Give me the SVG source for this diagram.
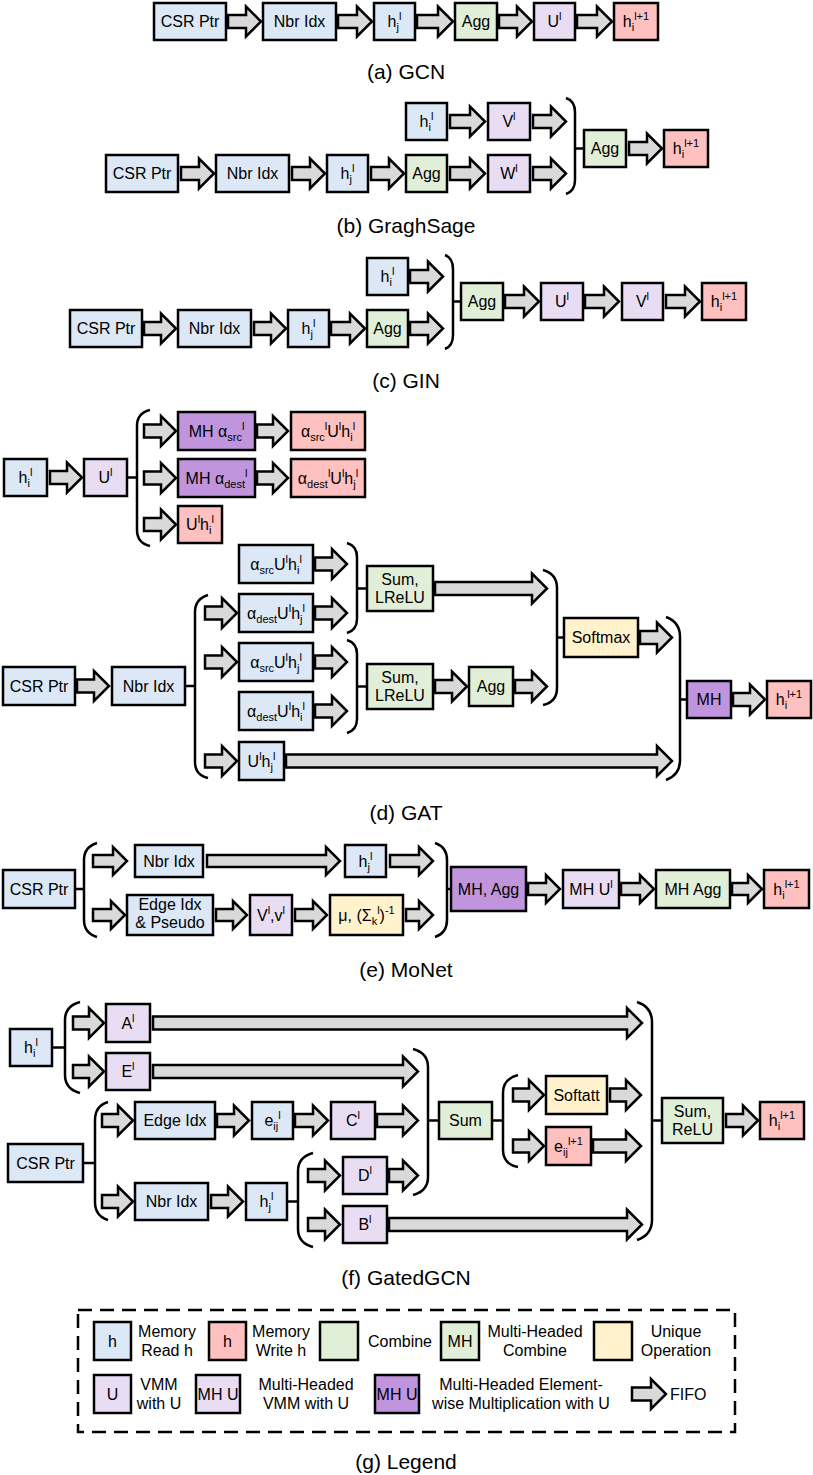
<svg xmlns="http://www.w3.org/2000/svg" width="813" height="1475" viewBox="0 0 813 1475">
<style>
.b{stroke:#000;stroke-width:2.5}
.blue{fill:#dce8f6}.pink{fill:#ffc0c0}.green{fill:#e1efd9}.lp{fill:#e9ddf3}.dp{fill:#c095dd}.yel{fill:#fff2cc}
.ar{fill:#d9d9d9;stroke:#000;stroke-width:2.5}
.br{fill:none;stroke:#000;stroke-width:2.5}
.t{font-family:"Liberation Sans",Arial,sans-serif;font-size:16px;text-anchor:middle;fill:#000}
.tl{font-family:"Liberation Sans",Arial,sans-serif;font-size:16px;text-anchor:start;fill:#000}
.s{font-size:11px}
.cap{font-family:"Liberation Sans",Arial,sans-serif;font-size:21px;text-anchor:middle;fill:#000}
</style>
<rect width="813" height="1475" fill="#fff"/>

<!-- (a) GCN -->
<g id="a_csr"><rect class="b blue" x="154" y="3" width="72" height="37"/><text class="t" x="190" y="27">CSR Ptr</text></g>
<g id="a_nbr"><rect class="b blue" x="263" y="3" width="73" height="37"/><text class="t" x="299.5" y="27">Nbr Idx</text></g>
<g id="a_hj"><rect class="b blue" x="374" y="3" width="41" height="37"/><text class="t" x="394.5" y="27">h<tspan class="s" dy="4">j</tspan><tspan class="s" dy="-11">l</tspan></text></g>
<g id="a_agg"><rect class="b green" x="455" y="3" width="42" height="37"/><text class="t" x="476" y="27">Agg</text></g>
<g id="a_u"><rect class="b lp" x="534" y="3" width="41" height="37"/><text class="t" x="554.5" y="27">U<tspan class="s" dy="-7">l</tspan></text></g>
<g id="a_hout"><rect class="b pink" x="614" y="3" width="44" height="37"/><text class="t" x="636" y="27">h<tspan class="s" dy="4">i</tspan><tspan class="s" dy="-11">l+1</tspan></text></g>
<text class="cap" x="406" y="79">(a) GCN</text>

<!-- (b) GraphSage -->
<g id="b_hi"><rect class="b blue" x="406" y="103" width="41" height="37"/><text class="t" x="426.5" y="127">h<tspan class="s" dy="4">i</tspan><tspan class="s" dy="-11">l</tspan></text></g>
<g id="b_v"><rect class="b lp" x="488" y="103" width="42" height="37"/><text class="t" x="509" y="127">V<tspan class="s" dy="-7">l</tspan></text></g>
<g id="b_csr"><rect class="b blue" x="106" y="155" width="72" height="37"/><text class="t" x="142" y="179">CSR Ptr</text></g>
<g id="b_nbr"><rect class="b blue" x="216" y="155" width="73" height="37"/><text class="t" x="252.5" y="179">Nbr Idx</text></g>
<g id="b_hj"><rect class="b blue" x="327" y="155" width="41" height="37"/><text class="t" x="347.5" y="179">h<tspan class="s" dy="4">j</tspan><tspan class="s" dy="-11">l</tspan></text></g>
<g id="b_agg1"><rect class="b green" x="406" y="155" width="41" height="37"/><text class="t" x="426.5" y="179">Agg</text></g>
<g id="b_w"><rect class="b lp" x="488" y="155" width="42" height="37"/><text class="t" x="509" y="179">W<tspan class="s" dy="-7">l</tspan></text></g>
<g id="b_agg2"><rect class="b green" x="584" y="130" width="42" height="37"/><text class="t" x="605" y="154">Agg</text></g>
<g id="b_hout"><rect class="b pink" x="664" y="130" width="44" height="37"/><text class="t" x="686" y="154">h<tspan class="s" dy="4">i</tspan><tspan class="s" dy="-11">l+1</tspan></text></g>
<text class="cap" x="406" y="233">(b) GraghSage</text>

<!-- (c) GIN -->
<g id="c_hi"><rect class="b blue" x="367" y="258" width="41" height="37"/><text class="t" x="387.5" y="282">h<tspan class="s" dy="4">i</tspan><tspan class="s" dy="-11">l</tspan></text></g>
<g id="c_csr"><rect class="b blue" x="70" y="310" width="72" height="37"/><text class="t" x="106" y="334">CSR Ptr</text></g>
<g id="c_nbr"><rect class="b blue" x="178" y="310" width="73" height="37"/><text class="t" x="214.5" y="334">Nbr Idx</text></g>
<g id="c_hj"><rect class="b blue" x="288" y="310" width="41" height="37"/><text class="t" x="308.5" y="334">h<tspan class="s" dy="4">j</tspan><tspan class="s" dy="-11">l</tspan></text></g>
<g id="c_agg1"><rect class="b green" x="367" y="310" width="41" height="37"/><text class="t" x="387.5" y="334">Agg</text></g>
<g id="c_agg2"><rect class="b green" x="461" y="283" width="42" height="37"/><text class="t" x="482" y="307">Agg</text></g>
<g id="c_u"><rect class="b lp" x="541" y="283" width="42" height="37"/><text class="t" x="562" y="307">U<tspan class="s" dy="-7">l</tspan></text></g>
<g id="c_v"><rect class="b lp" x="622" y="283" width="41" height="37"/><text class="t" x="642.5" y="307">V<tspan class="s" dy="-7">l</tspan></text></g>
<g id="c_hout"><rect class="b pink" x="702" y="283" width="44" height="37"/><text class="t" x="724" y="307">h<tspan class="s" dy="4">i</tspan><tspan class="s" dy="-11">l+1</tspan></text></g>
<text class="cap" x="406" y="388">(c) GIN</text>

<!-- (d) GAT top -->
<g id="d_hi"><rect class="b blue" x="4" y="459" width="43" height="37"/><text class="t" x="25.5" y="483">h<tspan class="s" dy="4">i</tspan><tspan class="s" dy="-11">l</tspan></text></g>
<g id="d_u"><rect class="b lp" x="84" y="459" width="43" height="37"/><text class="t" x="105.5" y="483">U<tspan class="s" dy="-7">l</tspan></text></g>
<g id="d_mhsrc"><rect class="b dp" x="178" y="412" width="77" height="38"/><text class="t" x="216.5" y="437">MH α<tspan class="s" dy="4">src</tspan><tspan class="s" dy="-11">l</tspan></text></g>
<g id="d_asrc"><rect class="b pink" x="291" y="412" width="74" height="38"/><text class="t" x="328" y="437">α<tspan class="s" dy="4">src</tspan><tspan class="s" dy="-11">l</tspan><tspan dy="7">U</tspan><tspan class="s" dy="-7">l</tspan><tspan dy="7">h</tspan><tspan class="s" dy="4">i</tspan><tspan class="s" dy="-11">l</tspan></text></g>
<g id="d_mhdest"><rect class="b dp" x="178" y="459" width="77" height="38"/><text class="t" x="216.5" y="484">MH α<tspan class="s" dy="4">dest</tspan><tspan class="s" dy="-11">l</tspan></text></g>
<g id="d_adest"><rect class="b pink" x="291" y="459" width="74" height="38"/><text class="t" x="328" y="484">α<tspan class="s" dy="4">dest</tspan><tspan class="s" dy="-11">l</tspan><tspan dy="7">U</tspan><tspan class="s" dy="-7">l</tspan><tspan dy="7">h</tspan><tspan class="s" dy="4">j</tspan><tspan class="s" dy="-11">l</tspan></text></g>
<g id="d_uhi"><rect class="b pink" x="178" y="506" width="44" height="37"/><text class="t" x="200" y="530">U<tspan class="s" dy="-7">l</tspan><tspan dy="7">h</tspan><tspan class="s" dy="4">i</tspan><tspan class="s" dy="-11">l</tspan></text></g>

<!-- (d) GAT bottom -->
<g id="d_csr"><rect class="b blue" x="3" y="667" width="72" height="38"/><text class="t" x="39" y="692">CSR Ptr</text></g>
<g id="d_nbr"><rect class="b blue" x="112" y="667" width="73" height="38"/><text class="t" x="148.5" y="692">Nbr Idx</text></g>
<g id="d_r1"><rect class="b blue" x="239" y="545" width="74" height="38"/><text class="t" x="276" y="570">α<tspan class="s" dy="4">src</tspan><tspan dy="-4">U</tspan><tspan class="s" dy="-7">l</tspan><tspan dy="7">h</tspan><tspan class="s" dy="4">i</tspan><tspan class="s" dy="-11">l</tspan></text></g>
<g id="d_r2"><rect class="b blue" x="239" y="594" width="74" height="38"/><text class="t" x="276" y="619">α<tspan class="s" dy="4">dest</tspan><tspan dy="-4">U</tspan><tspan class="s" dy="-7">l</tspan><tspan dy="7">h</tspan><tspan class="s" dy="4">j</tspan><tspan class="s" dy="-11">l</tspan></text></g>
<g id="d_r3"><rect class="b blue" x="239" y="643" width="74" height="38"/><text class="t" x="276" y="668">α<tspan class="s" dy="4">src</tspan><tspan dy="-4">U</tspan><tspan class="s" dy="-7">l</tspan><tspan dy="7">h</tspan><tspan class="s" dy="4">j</tspan><tspan class="s" dy="-11">l</tspan></text></g>
<g id="d_r4"><rect class="b blue" x="239" y="692" width="74" height="38"/><text class="t" x="276" y="717">α<tspan class="s" dy="4">dest</tspan><tspan dy="-4">U</tspan><tspan class="s" dy="-7">l</tspan><tspan dy="7">h</tspan><tspan class="s" dy="4">i</tspan><tspan class="s" dy="-11">l</tspan></text></g>
<g id="d_r5"><rect class="b blue" x="239" y="742" width="45" height="38"/><text class="t" x="261.5" y="767">U<tspan class="s" dy="-7">l</tspan><tspan dy="7">h</tspan><tspan class="s" dy="4">j</tspan><tspan class="s" dy="-11">l</tspan></text></g>
<g id="d_sum1"><rect class="b green" x="367" y="566" width="66" height="45"/><text class="t" x="400" y="585">Sum,</text><text class="t" x="400" y="603">LReLU</text></g>
<g id="d_sum2"><rect class="b green" x="367" y="664" width="66" height="45"/><text class="t" x="400" y="683">Sum,</text><text class="t" x="400" y="701">LReLU</text></g>
<g id="d_agg"><rect class="b green" x="469" y="667" width="44" height="39"/><text class="t" x="491" y="692">Agg</text></g>
<g id="d_soft"><rect class="b yel" x="564" y="618" width="74" height="39"/><text class="t" x="601" y="643">Softmax</text></g>
<g id="d_mh"><rect class="b dp" x="687" y="681" width="44" height="37"/><text class="t" x="709" y="705">MH</text></g>
<g id="d_hout"><rect class="b pink" x="767" y="681" width="44" height="37"/><text class="t" x="789" y="705">h<tspan class="s" dy="4">i</tspan><tspan class="s" dy="-11">l+1</tspan></text></g>
<text class="cap" x="406" y="820">(d) GAT</text>

<!-- (e) MoNet -->
<g id="e_csr"><rect class="b blue" x="3" y="870" width="72" height="38"/><text class="t" x="39" y="895">CSR Ptr</text></g>
<g id="e_nbr"><rect class="b blue" x="135" y="845" width="68" height="32"/><text class="t" x="169" y="867">Nbr Idx</text></g>
<g id="e_hj"><rect class="b blue" x="345" y="845" width="41" height="32"/><text class="t" x="365.5" y="867">h<tspan class="s" dy="4">j</tspan><tspan class="s" dy="-11">l</tspan></text></g>
<g id="e_edge"><rect class="b blue" x="127" y="895" width="86" height="40"/><text class="t" x="170" y="910">Edge Idx</text><text class="t" x="170" y="928">&amp; Pseudo</text></g>
<g id="e_v"><rect class="b lp" x="250" y="895" width="42" height="40"/><text class="t" x="271" y="921">V<tspan class="s" dy="-7">l</tspan><tspan dy="7">,v</tspan><tspan class="s" dy="-7">l</tspan></text></g>
<g id="e_mu"><rect class="b yel" x="330" y="895" width="73" height="40"/><text class="t" x="366.5" y="921">μ, (Σ<tspan class="s" dy="4">k</tspan><tspan class="s" dy="-11">l</tspan><tspan dy="7">)</tspan><tspan class="s" dy="-7">-1</tspan></text></g>
<g id="e_mhagg"><rect class="b dp" x="451" y="867" width="75" height="44"/><text class="t" x="488.5" y="895">MH, Agg</text></g>
<g id="e_mhu"><rect class="b lp" x="563" y="870" width="56" height="38"/><text class="t" x="591" y="895">MH U<tspan class="s" dy="-7">l</tspan></text></g>
<g id="e_mhagg2"><rect class="b green" x="656" y="870" width="74" height="38"/><text class="t" x="693" y="895">MH Agg</text></g>
<g id="e_hout"><rect class="b pink" x="764" y="870" width="45" height="38"/><text class="t" x="786.5" y="895">h<tspan class="s" dy="4">i</tspan><tspan class="s" dy="-11">l+1</tspan></text></g>
<text class="cap" x="406" y="977">(e) MoNet</text>

<!-- (f) GatedGCN -->
<g id="f_hi"><rect class="b blue" x="10" y="1029" width="42" height="37"/><text class="t" x="31" y="1053">h<tspan class="s" dy="4">i</tspan><tspan class="s" dy="-11">l</tspan></text></g>
<g id="f_a"><rect class="b lp" x="106" y="1004" width="44" height="38"/><text class="t" x="128" y="1029">A<tspan class="s" dy="-7">l</tspan></text></g>
<g id="f_e"><rect class="b lp" x="106" y="1053" width="44" height="37"/><text class="t" x="128" y="1077">E<tspan class="s" dy="-7">l</tspan></text></g>
<g id="f_csr"><rect class="b blue" x="8" y="1144" width="75" height="38"/><text class="t" x="45.5" y="1169">CSR Ptr</text></g>
<g id="f_edge"><rect class="b blue" x="135" y="1102" width="80" height="37"/><text class="t" x="175" y="1126">Edge Idx</text></g>
<g id="f_eij"><rect class="b blue" x="252" y="1102" width="41" height="37"/><text class="t" x="272.5" y="1126">e<tspan class="s" dy="4">ij</tspan><tspan class="s" dy="-11">l</tspan></text></g>
<g id="f_c"><rect class="b lp" x="331" y="1102" width="44" height="37"/><text class="t" x="353" y="1126">C<tspan class="s" dy="-7">l</tspan></text></g>
<g id="f_nbr"><rect class="b blue" x="135" y="1183" width="73" height="37"/><text class="t" x="171.5" y="1207">Nbr Idx</text></g>
<g id="f_hj"><rect class="b blue" x="246" y="1183" width="41" height="37"/><text class="t" x="266.5" y="1207">h<tspan class="s" dy="4">j</tspan><tspan class="s" dy="-11">l</tspan></text></g>
<g id="f_d"><rect class="b lp" x="343" y="1157" width="44" height="37"/><text class="t" x="365" y="1181">D<tspan class="s" dy="-7">l</tspan></text></g>
<g id="f_b"><rect class="b lp" x="343" y="1206" width="44" height="37"/><text class="t" x="365" y="1230">B<tspan class="s" dy="-7">l</tspan></text></g>
<g id="f_sum"><rect class="b green" x="439" y="1102" width="53" height="37"/><text class="t" x="465.5" y="1126">Sum</text></g>
<g id="f_softatt"><rect class="b yel" x="546" y="1076" width="61" height="38"/><text class="t" x="576.5" y="1101">Softatt</text></g>
<g id="f_eout"><rect class="b pink" x="546" y="1127" width="45" height="38"/><text class="t" x="568.5" y="1152">e<tspan class="s" dy="4">ij</tspan><tspan class="s" dy="-11">l+1</tspan></text></g>
<g id="f_sumrelu"><rect class="b green" x="662" y="1098" width="61" height="45"/><text class="t" x="692.5" y="1117">Sum,</text><text class="t" x="692.5" y="1135">ReLU</text></g>
<g id="f_hout"><rect class="b pink" x="760" y="1102" width="44" height="37"/><text class="t" x="782" y="1126">h<tspan class="s" dy="4">i</tspan><tspan class="s" dy="-11">l+1</tspan></text></g>
<text class="cap" x="406" y="1285">(f) GatedGCN</text>

<!-- (g) Legend -->
<g id="legend">
<rect x="78" y="1310" width="657" height="122" fill="none" stroke="#000" stroke-width="2.5" stroke-dasharray="14 8"/>
<rect class="b blue" x="94" y="1322" width="37" height="38"/><text class="t" x="112.5" y="1347">h</text>
<text class="t" x="167" y="1337">Memory</text><text class="t" x="167" y="1356">Read h</text>
<rect class="b pink" x="209" y="1322" width="37" height="38"/><text class="t" x="227.5" y="1347">h</text>
<text class="t" x="281" y="1337">Memory</text><text class="t" x="281" y="1356">Write h</text>
<rect class="b green" x="320" y="1322" width="38" height="38"/>
<text class="t" x="400" y="1347">Combine</text>
<rect class="b green" x="441" y="1322" width="38" height="38"/><text class="t" x="460" y="1347">MH</text>
<text class="t" x="535" y="1337">Multi-Headed</text><text class="t" x="535" y="1356">Combine</text>
<rect class="b yel" x="594" y="1322" width="38" height="38"/>
<text class="t" x="676" y="1337">Unique</text><text class="t" x="676" y="1356">Operation</text>
<rect class="b lp" x="94" y="1375" width="37" height="38"/><text class="t" x="112.5" y="1400">U</text>
<text class="t" x="159" y="1390">VMM</text><text class="t" x="159" y="1409">with U</text>
<rect class="b lp" x="196" y="1375" width="44" height="38"/><text class="t" x="218" y="1400">MH U</text>
<text class="t" x="306" y="1390">Multi-Headed</text><text class="t" x="306" y="1409">VMM with U</text>
<rect class="b dp" x="375" y="1375" width="44" height="38"/><text class="t" x="397" y="1400">MH U</text>
<text class="t" x="521" y="1390">Multi-Headed Element-</text><text class="t" x="521" y="1409">wise Multiplication with U</text>
<path class="ar" d="M632,1387.5H651V1379L666,1394L651,1409V1400.5H632Z"/>
<text class="tl" x="670" y="1400">FIFO</text>
</g>
<text class="cap" x="406" y="1469">(g) Legend</text>

<!-- connectors -->
<g id="connectors">
<path class="ar" d="M228,15H246V6.5L261,21.5L246,36.5V28H228Z"/>
<path class="ar" d="M338,15H357V6.5L372,21.5L357,36.5V28H338Z"/>
<path class="ar" d="M417,15H438V6.5L453,21.5L438,36.5V28H417Z"/>
<path class="ar" d="M499,15H517V6.5L532,21.5L517,36.5V28H499Z"/>
<path class="ar" d="M577,15H597V6.5L612,21.5L597,36.5V28H577Z"/>

<path class="ar" d="M450,115H470V106.5L485,121.5L470,136.5V128H450Z"/>
<path class="ar" d="M533,115H551V106.5L566,121.5L551,136.5V128H533Z"/>
<path class="ar" d="M181,167H199V158.5L214,173.5L199,188.5V180H181Z"/>
<path class="ar" d="M292,167H310V158.5L325,173.5L310,188.5V180H292Z"/>
<path class="ar" d="M371,167H389V158.5L404,173.5L389,188.5V180H371Z"/>
<path class="ar" d="M450,167H470V158.5L485,173.5L470,188.5V180H450Z"/>
<path class="ar" d="M533,167H551V158.5L566,173.5L551,188.5V180H533Z"/>
<path class="br" d="M566,98Q575,101 575,112V180Q575,191 566,194M575,148.5H584"/>
<path class="ar" d="M629,142H647V133.5L662,148.5L647,163.5V155H629Z"/>

<path class="ar" d="M410,270H428V261.5L443,276.5L428,291.5V283H410Z"/>
<path class="ar" d="M144,322H161V313.5L176,328.5L161,343.5V335H144Z"/>
<path class="ar" d="M254,322H271V313.5L286,328.5L271,343.5V335H254Z"/>
<path class="ar" d="M331,322H350V313.5L365,328.5L350,343.5V335H331Z"/>
<path class="ar" d="M410,322H428V313.5L443,328.5L428,343.5V335H410Z"/>
<path class="br" d="M445,255Q453,258 453,269V335Q453,346 445,349M453,301.5H461"/>
<path class="ar" d="M505,295H524V286.5L539,301.5L524,316.5V308H505Z"/>
<path class="ar" d="M585,295H604V286.5L619,301.5L604,316.5V308H585Z"/>
<path class="ar" d="M666,295H685V286.5L700,301.5L685,316.5V308H666Z"/>

<path class="ar" d="M50,471H67V462.5L82,477.5L67,492.5V484H50Z"/>
<path class="br" d="M127,477.5H137M150,410Q137,413 137,426V530Q137,543 150,546"/>
<path class="ar" d="M144,424.5H161V416L176,431L161,446V437.5H144Z"/>
<path class="ar" d="M257,424.5H273V416L288,431L273,446V437.5H257Z"/>
<path class="ar" d="M144,471.5H161V463L176,478L161,493V484.5H144Z"/>
<path class="ar" d="M257,471.5H273V463L288,478L273,493V484.5H257Z"/>
<path class="ar" d="M144,518H161V509.5L176,524.5L161,539.5V531H144Z"/>

<path class="ar" d="M77,679.5H94V671L109,686L94,701V692.5H77Z"/>
<path class="br" d="M185,686H195M208,595Q195,599 195,612V762Q195,775 208,778"/>
<path class="ar" d="M315,557.5H332V549L347,564L332,579V570.5H315Z"/>
<path class="ar" d="M205,606.5H222V598L237,613L222,628V619.5H205Z"/>
<path class="ar" d="M315,606.5H332V598L347,613L332,628V619.5H315Z"/>
<path class="br" d="M347,543Q357,546 357,557V619Q357,630 347,633M357,588.5H367"/>
<path class="ar" d="M435,582H532V573.5L547,588.5L532,603.5V595H435Z"/>
<path class="ar" d="M205,655.5H222V647L237,662L222,677V668.5H205Z"/>
<path class="ar" d="M315,655.5H332V647L347,662L332,677V668.5H315Z"/>
<path class="ar" d="M315,704.5H332V696L347,711L332,726V717.5H315Z"/>
<path class="br" d="M347,640Q357,643 357,654V719Q357,730 347,733M357,686.5H367"/>
<path class="ar" d="M435,680H452V671.5L467,686.5L452,701.5V693H435Z"/>
<path class="ar" d="M515,680H532V671.5L547,686.5L532,701.5V693H515Z"/>
<path class="br" d="M543,570Q557,574 557,588V688Q557,702 543,705M557,637.5H564"/>
<path class="ar" d="M640,631H657V622.5L672,637.5L657,652.5V644H640Z"/>
<path class="ar" d="M205,754.5H222V746L237,761L222,776V767.5H205Z"/>
<path class="ar" d="M286,754.5H657V746L672,761L657,776V767.5H286Z"/>
<path class="br" d="M666,617Q680,622 680,637V760Q680,775 666,780M680,699.5H687"/>
<path class="ar" d="M733,693H750V684.5L765,699.5L750,714.5V706H733Z"/>

<path class="br" d="M75,889H84M97,843Q84,847 84,860V920Q84,933 97,937"/>
<path class="ar" d="M93,855H113V847L127,861L113,875V867H93Z"/>
<path class="ar" d="M207,855H326V847L340,861L326,875V867H207Z"/>
<path class="ar" d="M390,855H419V847L433,861L419,875V867H390Z"/>
<path class="ar" d="M93,909H111V901L125,915L111,929V921H93Z"/>
<path class="ar" d="M216,909H233V901L247,915L233,929V921H216Z"/>
<path class="ar" d="M295,909H313V901L327,915L313,929V921H295Z"/>
<path class="ar" d="M406,909H419V901L433,915L419,929V921H406Z"/>
<path class="br" d="M435,843Q447,847 447,860V920Q447,933 435,937M447,889H451"/>
<path class="ar" d="M528,883H546V875L560,889L546,903V895H528Z"/>
<path class="ar" d="M621,883H640V875L654,889L640,903V895H621Z"/>
<path class="ar" d="M732,883H748V875L762,889L748,903V895H732Z"/>

<path class="br" d="M52,1047.5H65M80,1002Q65,1006 65,1020V1075Q65,1089 80,1093"/>
<path class="ar" d="M73,1016.5H89V1008L104,1023L89,1038V1029.5H73Z"/>
<path class="ar" d="M153,1016.5H627V1008L642,1023L627,1038V1029.5H153Z"/>
<path class="ar" d="M73,1065H89V1056.5L104,1071.5L89,1086.5V1078H73Z"/>
<path class="ar" d="M153,1065H403V1056.5L418,1071.5L403,1086.5V1078H153Z"/>
<path class="br" d="M83,1163H95M108,1102Q95,1106 95,1120V1202Q95,1216 108,1220"/>
<path class="ar" d="M102,1114H118V1105.5L133,1120.5L118,1135.5V1127H102Z"/>
<path class="ar" d="M217,1114H234V1105.5L249,1120.5L234,1135.5V1127H217Z"/>
<path class="ar" d="M295,1114H313V1105.5L328,1120.5L313,1135.5V1127H295Z"/>
<path class="ar" d="M377,1114H403V1105.5L418,1120.5L403,1135.5V1127H377Z"/>
<path class="ar" d="M102,1195H118V1186.5L133,1201.5L118,1216.5V1208H102Z"/>
<path class="ar" d="M211,1195H228V1186.5L243,1201.5L228,1216.5V1208H211Z"/>
<path class="br" d="M287,1201.5H298M313,1153Q298,1157 298,1171V1229Q298,1243 313,1247"/>
<path class="ar" d="M308,1169H325V1160.5L340,1175.5L325,1190.5V1182H308Z"/>
<path class="ar" d="M389,1169H403V1160.5L418,1175.5L403,1190.5V1182H389Z"/>
<path class="ar" d="M308,1218H325V1209.5L340,1224.5L325,1239.5V1231H308Z"/>
<path class="ar" d="M389,1218H627V1209.5L642,1224.5L627,1239.5V1231H389Z"/>
<path class="br" d="M413,1049Q428,1053 428,1067V1177Q428,1191 413,1195M428,1120.5H439"/>
<path class="br" d="M492,1120.5H503M518,1075Q503,1079 503,1093V1150Q503,1164 518,1167"/>
<path class="ar" d="M513,1088.5H529V1080L544,1095L529,1110V1101.5H513Z"/>
<path class="ar" d="M610,1088.5H626V1080L641,1095L626,1110V1101.5H610Z"/>
<path class="ar" d="M513,1139.5H529V1131L544,1146L529,1161V1152.5H513Z"/>
<path class="ar" d="M593,1139.5H626V1131L641,1146L626,1161V1152.5H593Z"/>
<path class="br" d="M637,1002Q652,1007 652,1022V1220Q652,1235 637,1240M652,1120.5H662"/>
<path class="ar" d="M726,1114H743V1105.5L758,1120.5L743,1135.5V1127H726Z"/>
</g>
</svg>
